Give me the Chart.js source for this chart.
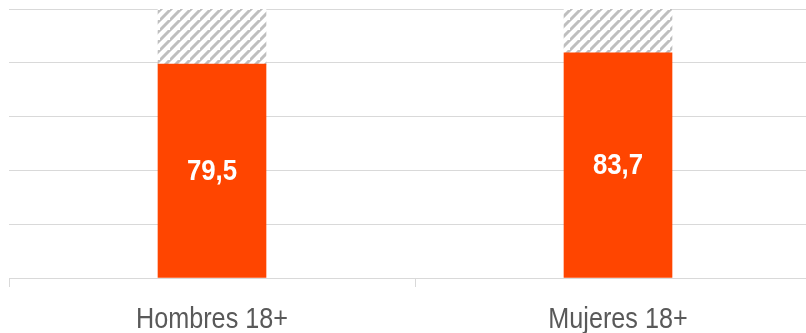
<!DOCTYPE html>
<html>
<head>
<meta charset="utf-8">
<script src="https://cdn.jsdelivr.net/npm/chart.js@4/dist/chart.umd.min.js"></script>
<style>
html,body{margin:0;padding:0;background:#fff;overflow:hidden;}
#wrap{position:relative;width:830px;height:333px;}
</style>
</head>
<body>
<div id="wrap"><canvas id="c" width="830" height="333"></canvas></div>
<script>
const categories = ['Hombres 18+', 'Mujeres 18+'];
const valores = [79.5, 83.7];
const resto = [20.5, 16.3];
const yTicks = [0, 20, 40, 60, 80, 100];

function makeHatch() {
  const s = 10;
  const p = document.createElement('canvas');
  p.width = s; p.height = s;
  const g = p.getContext('2d');
  g.fillStyle = '#ffffff';
  g.fillRect(0, 0, s, s);
  g.strokeStyle = '#bfbfbf';
  g.lineWidth = 3;
  g.beginPath();
  g.moveTo(-2, s + 2); g.lineTo(s + 2, -2);
  g.moveTo(-2 - s, s + 2); g.lineTo(2, -2);
  g.moveTo(s - 2, 2 * s + 2); g.lineTo(2 * s + 2, s - 2);
  g.stroke();
  return document.getElementById('c').getContext('2d').createPattern(p, 'repeat');
}

// narrow text: Liberation Sans squeezed horizontally (Arial Narrow look)
function narrowText(ctx, txt, x, y, sx) {
  ctx.save();
  ctx.translate(x, y);
  ctx.scale(sx, 1);
  ctx.fillText(txt, 0, 0);
  ctx.restore();
}

const labelPlugin = {
  id: 'valueLabels',
  afterDatasetsDraw(chart) {
    const ctx = chart.ctx;
    const meta = chart.getDatasetMeta(0);
    ctx.save();
    ctx.fillStyle = '#ffffff';
    ctx.font = 'bold 29px "Liberation Sans", Arial, sans-serif';
    ctx.textAlign = 'center';
    ctx.textBaseline = 'middle';
    meta.data.forEach((bar, i) => {
      const p = bar.getProps(['x', 'y', 'base'], true);
      const txt = valores[i].toFixed(1).replace('.', ',');
      narrowText(ctx, txt, p.x, (p.y + p.base) / 2 + 1, 0.89);
    });
    // category labels
    const xs = chart.scales.x;
    ctx.fillStyle = '#595959';
    ctx.font = '30px "Liberation Sans", Arial, sans-serif';
    ctx.textBaseline = 'alphabetic';
    categories.forEach((c, i) => {
      narrowText(ctx, c, xs.getPixelForTick(i), xs.bottom + 41, 0.84);
    });
    ctx.restore();
  }
};

new Chart(document.getElementById('c'), {
  type: 'bar',
  data: {
    labels: categories,
    datasets: [
      { data: valores, backgroundColor: '#FF4500', barThickness: 108, borderWidth: 0 },
      { data: resto, backgroundColor: makeHatch(), barThickness: 108, borderWidth: 0 }
    ]
  },
  options: {
    responsive: false,
    animation: false,
    layout: { padding: { left: 9, right: 9, top: 9, bottom: 46 } },
    plugins: { legend: { display: false }, tooltip: { enabled: false } },
    scales: {
      x: {
        stacked: true,
        grid: { display: true, drawOnChartArea: false, drawTicks: true, tickLength: 9, color: '#d9d9d9', offset: true },
        border: { display: true, color: '#d9d9d9', width: 1 },
        ticks: { display: false }
      },
      y: {
        stacked: true,
        min: 0, max: 100,
        afterBuildTicks(axis) { axis.ticks = yTicks.map(v => ({ value: v })); },
        grid: { color: '#d9d9d9', lineWidth: 1, drawTicks: false },
        border: { display: false },
        ticks: { display: false }
      }
    }
  },
  plugins: [labelPlugin]
});
</script>
</body>
</html>
